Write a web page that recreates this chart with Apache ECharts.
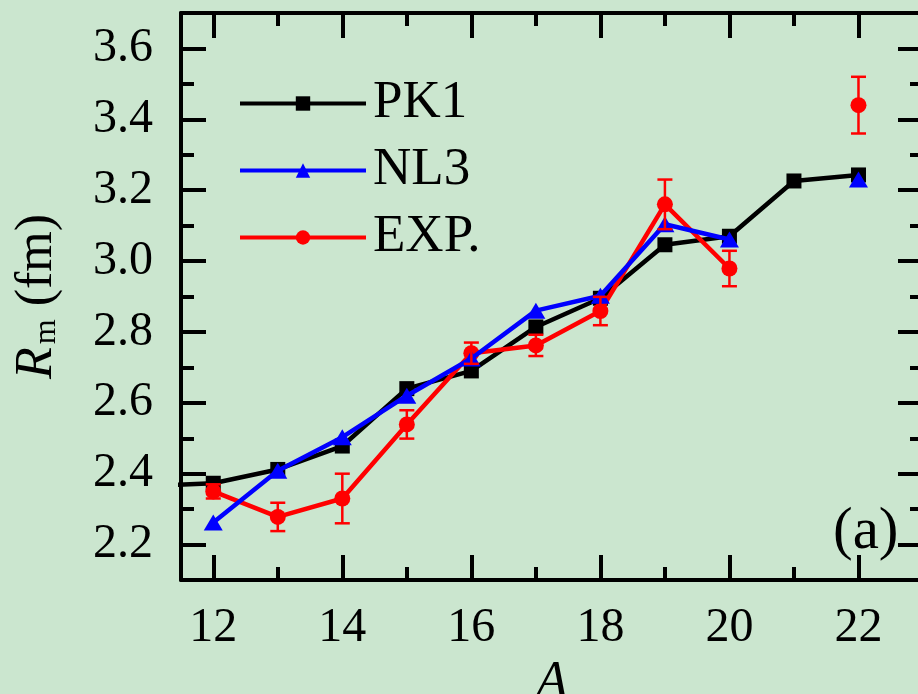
<!DOCTYPE html>
<html>
<head>
<meta charset="utf-8">
<script src="https://cdn.jsdelivr.net/npm/echarts@6/dist/echarts.min.js"></script>
<style>
  html, body { margin: 0; padding: 0; background: #cbe6cf; }
  #chart { width: 918px; height: 694px; }
</style>
</head>
<body>
<div id="chart"></div>
<script>
// Mass number A
const massNumbers = [11, 12, 13, 14, 15, 16, 17, 18, 19, 20, 21, 22];
// Matter radii R_m (fm); '-' marks a missing value
const pk1Values = [2.365, 2.373, 2.412, 2.478, 2.640, 2.690, 2.814, 2.895, 3.046, 3.070, 3.226, 3.243];
const nl3Values = ['-', 2.262, 2.408, 2.503, 2.620, 2.725, 2.860, 2.902, 3.104, 3.061, '-', 3.230];
const expValues = ['-', 2.350, 2.278, 2.330, 2.539, 2.740, 2.762, 2.859, 3.160, 2.979, '-', 3.440];
const expErrors = ['-', 0.02, 0.04, 0.07, 0.04, 0.03, 0.03, 0.04, 0.07, 0.05, '-', 0.08];

// Axis ticks
const xMajorTicks = [12, 14, 16, 18, 20, 22];
const xMinorTicks = [13, 15, 17, 19, 21];
const yMajorTicks = [2.2, 2.4, 2.6, 2.8, 3.0, 3.2, 3.4, 3.6];
const yMinorTicks = [2.3, 2.5, 2.7, 2.9, 3.1, 3.3, 3.5];

const X_MIN = 11.5, X_MAX = 23, Y_MIN = 2.1, Y_MAX = 3.7;
const FONT = '"Liberation Serif", "Times New Roman", serif';

const pairs = vals => massNumbers.map((a, i) => [a, vals[i]]);
const errData = massNumbers
  .map((a, i) => [a, expValues[i], expErrors[i]])
  .filter(d => d[1] !== '-');

function makeX(position, ticks, major, withLabels) {
  return {
    type: 'value', position, min: X_MIN, max: X_MAX,
    axisLine: { show: major, onZero: false, lineStyle: { color: '#000', width: 4 } },
    axisTick: { show: true, inside: true, length: major ? 25 : 13, customValues: ticks,
                lineStyle: { color: '#000', width: 4 } },
    axisLabel: withLabels ? {
      show: true, customValues: xMajorTicks, margin: 24, color: '#000',
      fontFamily: FONT, fontSize: 48
    } : { show: false },
    splitLine: { show: false }
  };
}
function makeY(position, ticks, major, withLabels) {
  return {
    type: 'value', position, min: Y_MIN, max: Y_MAX,
    axisLine: { show: major, onZero: false, lineStyle: { color: '#000', width: 4 } },
    axisTick: { show: true, inside: true, length: major ? 25 : 13, customValues: ticks,
                lineStyle: { color: '#000', width: 4 } },
    axisLabel: withLabels ? {
      show: true, customValues: yMajorTicks, margin: 28, color: '#000',
      fontFamily: FONT, fontSize: 48, formatter: v => v.toFixed(1)
    } : { show: false },
    splitLine: { show: false }
  };
}

const xAxes = [
  makeX('bottom', xMajorTicks, true, true),
  makeX('bottom', xMinorTicks, false, false),
  makeX('top', xMajorTicks, true, false),
  makeX('top', xMinorTicks, false, false)
];
Object.assign(xAxes[0], {
  name: 'A', nameLocation: 'middle', nameGap: 68,
  nameTextStyle: { fontFamily: FONT, fontSize: 52, fontStyle: 'italic', color: '#000' }
});

const yAxes = [
  makeY('left', yMajorTicks, true, true),
  makeY('left', yMinorTicks, false, false),
  makeY('right', yMajorTicks, true, false),
  makeY('right', yMinorTicks, false, false)
];
Object.assign(yAxes[0], {
  name: '{r|R}{m|m} (fm)', nameLocation: 'middle', nameGap: 118, nameRotate: 90,
  nameTextStyle: {
    fontFamily: FONT, fontSize: 52, color: '#000',
    rich: {
      r: { fontFamily: FONT, fontSize: 52, fontStyle: 'italic', color: '#000', padding: [0, 3, 0, 0] },
      m: { fontFamily: FONT, fontSize: 32, color: '#000', verticalAlign: 'bottom' }
    }
  }
});

const chart = echarts.init(document.getElementById('chart'), null, { renderer: 'canvas' });
chart.setOption({
  backgroundColor: '#cbe6cf',
  animation: false,
  grid: { left: 181, top: 13, width: 742, height: 567, containLabel: false, outerBoundsMode: 'none' },
  legend: {
    data: ['PK1', 'NL3', 'EXP.'],
    orient: 'vertical', left: 233, top: 72,
    itemWidth: 126, itemHeight: 18, itemGap: 14,
    lineStyle: { width: 4 },
    textStyle: { fontFamily: FONT, fontSize: 53, lineHeight: 53, color: '#000', padding: [0, 0, 0, 2] },
    selectedMode: false
  },
  xAxis: xAxes,
  yAxis: yAxes,
  graphic: [{
    type: 'text', left: 833, top: 503,
    style: { text: '(a)', fontFamily: FONT, fontSize: 59, fill: '#000' }
  }],
  series: [
    {
      name: 'PK1', type: 'line', data: pairs(pk1Values),
      symbol: 'rect', symbolSize: 15, showSymbol: true, showAllSymbol: true,
      itemStyle: { color: '#000' }, lineStyle: { color: '#000', width: 4.5 },
      emphasis: { disabled: true }, z: 2
    },
    {
      name: 'EXP.', type: 'line', data: pairs(expValues),
      symbol: 'circle', symbolSize: 16, showSymbol: true, showAllSymbol: true,
      itemStyle: { color: '#ff0000' }, lineStyle: { color: '#ff0000', width: 4.5 },
      emphasis: { disabled: true }, z: 3
    },
    {
      name: 'NL3', type: 'line', data: pairs(nl3Values),
      symbol: 'triangle', symbolSize: [19, 16], showSymbol: true, showAllSymbol: true,
      itemStyle: { color: '#0000ff' }, lineStyle: { color: '#0000ff', width: 4.5 },
      emphasis: { disabled: true }, z: 4
    },
    {
      name: 'EXP. error', type: 'custom', data: errData, z: 5,
      renderItem: (params, api) => {
        const a = api.value(0), v = api.value(1), e = api.value(2);
        const top = api.coord([a, v + e]);
        const bot = api.coord([a, v - e]);
        const hw = 7.5;
        const style = { stroke: '#ff0000', lineWidth: 2.5 };
        return {
          type: 'group',
          children: [
            { type: 'line', shape: { x1: top[0], y1: top[1], x2: bot[0], y2: bot[1] }, style },
            { type: 'line', shape: { x1: top[0] - hw, y1: top[1], x2: top[0] + hw, y2: top[1] }, style },
            { type: 'line', shape: { x1: bot[0] - hw, y1: bot[1], x2: bot[0] + hw, y2: bot[1] }, style }
          ]
        };
      },
      encode: { x: 0, y: 1 }
    }
  ]
});
</script>
</body>
</html>
